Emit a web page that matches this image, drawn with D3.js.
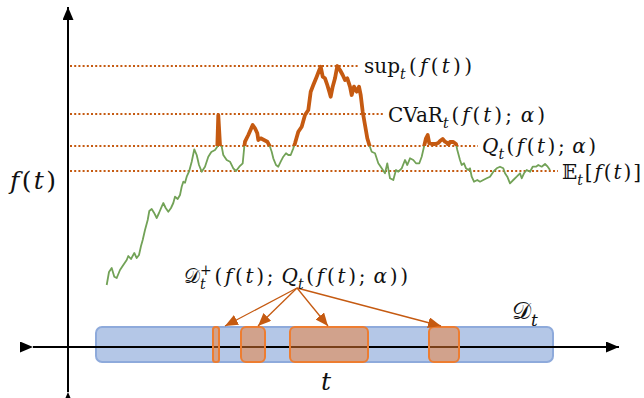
<!DOCTYPE html>
<html>
<head>
<meta charset="utf-8">
<script src="https://cdn.jsdelivr.net/npm/d3@7"></script>
<style>
  html, body { margin: 0; padding: 0; background: #fff; }
  svg { display: block; }
</style>
</head>
<body>
<svg id="chart" width="644" height="398"></svg>
<script>
// Sample path of f(t): time and value
const tValues = [38.7, 41, 43.7, 46.3, 48.7, 52, 55.3, 58.7, 60.3, 63, 66.3, 68.7, 71, 73, 74.7, 77, 79.7, 81.3, 83.7, 86,
  88.7, 91, 93.7, 95.3, 97.7, 100.3, 103, 105.3, 107, 109.7, 112, 113.7, 115.3, 117, 118.7, 121, 123.7, 126.3, 128.7, 131,
  133.7, 137, 140.3, 143.3, 147, 149.3, 150.3, 152, 153.7, 155.3, 158.7, 162, 165.3, 168, 171.3, 174.7, 176.3, 177, 180.3, 184.7,
  187, 189.3, 190.3, 192.7, 196, 199.3, 202, 203.7, 205.3, 208, 210.3, 212.7, 215.3, 218, 220.3, 222.7, 225.3, 227, 230.3, 233.7,
  237, 240.3, 242.7, 245.3, 248.7, 251.3, 252.7, 254.7, 257, 259.3, 261.3, 262.7, 264.7, 267, 269.3, 272, 274.7, 277, 279.3, 282,
  283.7, 286, 288.7, 291, 292.7, 294.7, 297, 299.3, 301.3, 303.7, 307, 310.3, 313.7, 317, 319.3, 322, 325.3, 328, 330.3, 333.7,
  337, 339.3, 342, 345.3, 348, 351.3, 353.7, 356, 358, 359.7, 361.3, 363.7, 367, 370.3, 372, 374.7, 377, 379.3, 380.3, 382,
  385.3, 388, 389.3, 392, 393.7, 396, 398, 400.3, 402, 403.7, 406, 409.3, 412, 415.3, 418.7, 422, 425.3, 428.7, 432, 435.3,
  437, 439.3, 442, 445.3, 448.7, 452, 453.7, 456, 458.7, 462, 464.7, 468, 470.3, 473.7, 477, 479.7, 482];
const fValues = [62, 75, 79, 70.3, 69, 77, 82, 87, 91, 88, 94, 89, 92, 101, 107, 117, 127, 136, 138, 134.3,
  129, 134, 140.3, 144, 139, 135.3, 139, 144, 150.3, 148, 152, 160.3, 165.3, 164.3, 170.3, 175.3, 185.3, 197.7, 192, 182,
  175.3, 180.3, 190.3, 195, 197, 200.3, 232, 202, 200.3, 192, 187, 185.3, 178.7, 176, 180.3, 183.7, 200.3, 205.3, 212, 222,
  218.7, 213.7, 207, 208.7, 207, 205.3, 200.3, 195.3, 188.7, 182, 180.3, 185.3, 190.3, 193.7, 192, 192, 198.7, 203.7, 215.3, 220.3,
  232, 237, 255.3, 262, 270.3, 277, 280.3, 270.3, 268.7, 262, 255.3, 250.3, 260.3, 268.7, 281, 277, 272, 267, 268.7, 260.3,
  252, 260.3, 255.3, 260.3, 252, 235.3, 222, 208.7, 202, 195.3, 193.7, 183.7, 178.7, 173.7, 183.7, 168.7, 167, 177, 175.3, 178.7,
  187, 182, 188.7, 187, 183.7, 183.7, 190.3, 200.3, 208.7, 212, 203.7, 203, 203, 204, 206, 208, 205.3, 204, 202, 205,
  205, 203, 197, 187, 182, 183.7, 178.7, 177, 178.7, 170.3, 165.3, 167, 165.3, 167, 168.7, 170.3, 175.3, 178.7, 180.3, 178.7,
  173.7, 170.3, 163.7, 167, 170.3, 173.7, 168.7, 173.7, 177, 175.3, 180.3, 180.3, 182, 180.3, 183, 180.3, 177];

// Summary levels of f(t)
const levelKeys = ["sup", "cvar", "quantile", "mean"];
const levelValues = [281, 233, 201, 176];

// Time intervals where f(t) exceeds the quantile level
const exceedStart = [145, 173, 222, 361];
const exceedEnd = [151, 197, 300, 391];

// Whole time domain D_t
const domainStart = 28;
const domainEnd = 485;

const svg = d3.select("#chart");
const x = d3.scaleLinear().domain([0, 551]).range([68, 619]);
const y = d3.scaleLinear().domain([0, 340]).range([347, 7]);

const ORANGE = "#c55a11";
const ORANGE_LIGHT = "#ed7d31";
const GREEN = "#72a257";
const FONT = "DejaVu Serif, Liberation Serif, serif";

// markers
const defs = svg.append("defs");
function arrowMarker(id, color, len, wid) {
  defs.append("marker")
    .attr("id", id)
    .attr("markerUnits", "userSpaceOnUse")
    .attr("viewBox", `0 0 ${len} ${wid}`)
    .attr("refX", len).attr("refY", wid / 2)
    .attr("markerWidth", len).attr("markerHeight", wid)
    .attr("orient", "auto")
    .append("path")
    .attr("d", `M0,0L${len},${wid / 2}L0,${wid}Z`)
    .attr("fill", color);
}
arrowMarker("axisHead", "#000", 13, 11);
arrowMarker("pointHead", ORANGE, 13, 11);

// ---- time domain bar ----
const barTop = y(0) - 20, barH = 35;
svg.append("rect")
  .attr("x", x(domainStart)).attr("y", barTop)
  .attr("width", x(domainEnd) - x(domainStart)).attr("height", barH)
  .attr("rx", 6)
  .attr("fill", "#b4c7e7").attr("stroke", "#8eaadb").attr("stroke-width", 2);

// ---- axes ----
svg.append("line")
  .attr("x1", x(0)).attr("x2", x(0))
  .attr("y1", y(-45)).attr("y2", y(340))
  .attr("stroke", "#000").attr("stroke-width", 2)
  .attr("marker-start", "url(#axisHead)").attr("marker-end", "url(#axisHead)");
svg.append("line")
  .attr("x1", x(-35)).attr("x2", x(551))
  .attr("y1", y(0)).attr("y2", y(0))
  .attr("stroke", "#000").attr("stroke-width", 2)
  .attr("marker-start", "url(#axisHead)").attr("marker-end", "url(#axisHead)");

// ---- exceedance intervals ----
svg.selectAll("rect.exceed")
  .data(d3.range(exceedStart.length))
  .join("rect")
  .attr("class", "exceed")
  .attr("x", i => x(exceedStart[i])).attr("y", barTop)
  .attr("width", i => x(exceedEnd[i]) - x(exceedStart[i])).attr("height", barH)
  .attr("rx", i => Math.min(5, (x(exceedEnd[i]) - x(exceedStart[i])) / 2 - 0.5))
  .attr("fill", ORANGE_LIGHT).attr("fill-opacity", 0.5)
  .attr("stroke", ORANGE_LIGHT).attr("stroke-width", 2);

// ---- level guide lines ----
const levelEnds = [290, 317, 410, 490];
svg.selectAll("line.level")
  .data(levelValues)
  .join("line")
  .attr("class", "level")
  .attr("x1", x(2)).attr("x2", (d, i) => x(levelEnds[i]))
  .attr("y1", d => y(d)).attr("y2", d => y(d))
  .attr("stroke", ORANGE).attr("stroke-width", 2)
  .attr("stroke-dasharray", "2,2.2");

// ---- the path ----
const pts = tValues.map((t, i) => [t, fValues[i]]);
const line = d3.line().x(d => x(d[0])).y(d => y(d[1]));
svg.append("path")
  .attr("d", line(pts))
  .attr("fill", "none").attr("stroke", GREEN).attr("stroke-width", 1.8)
  .attr("stroke-linejoin", "round");

// portion above the quantile level drawn thick
defs.append("clipPath").attr("id", "aboveQ")
  .append("rect").attr("x", 0).attr("y", 0)
  .attr("width", 644).attr("height", y(levelValues[2]));
svg.append("path")
  .attr("d", line(pts))
  .attr("clip-path", "url(#aboveQ)")
  .attr("fill", "none").attr("stroke", ORANGE).attr("stroke-width", 3.8)
  .attr("stroke-linejoin", "round");

// ---- pointer arrows from the D+ label to the intervals ----
const arrowFrom = [229, 59];
const arrowTo = [157, 190, 260, 373];
svg.selectAll("line.pointer")
  .data(arrowTo)
  .join("line")
  .attr("class", "pointer")
  .attr("x1", x(arrowFrom[0])).attr("y1", y(arrowFrom[1]))
  .attr("x2", d => x(d)).attr("y2", barTop - 1)
  .attr("stroke", ORANGE).attr("stroke-width", 1.3)
  .attr("marker-end", "url(#pointHead)");

// ---- math labels ----
const probe = svg.append("text").attr("font-family", FONT).attr("visibility", "hidden");
function measure(str, size, italic) {
  probe.attr("font-size", size).attr("font-style", italic ? "italic" : "normal").text(str);
  return probe.node().getComputedTextLength();
}

// parts: [text, kind]; kind may hold "i" (italic), "sub", "sup", "stack" (sub placed under the previous sup).
// Upright words stay tight; math symbols get extra room so the label spans `width`,
// with a wider gap after a semicolon.
function mathLabel(px, py, size, width, parts) {
  const txt = svg.append("text")
    .attr("x", px).attr("y", py)
    .attr("font-family", FONT).attr("font-size", size).attr("fill", "#111");
  const toks = [];
  parts.forEach(([str, kind = ""]) => {
    const italic = kind.includes("i");
    const isWord = !italic && /^[A-Za-z]{2,}$/.test(str);
    (isWord ? [str] : Array.from(str)).forEach(s => toks.push({ s, kind, italic }));
  });
  let shift = 0, pendingDx = 0, lastSupW = 0, prev = "";
  const spans = [];
  toks.forEach(tk => {
    let target = 0, fs = size;
    if (tk.kind.includes("sub")) { target = size * 0.3; fs = size * 0.7; }
    if (tk.kind.includes("sup")) { target = -size * 0.42; fs = size * 0.7; }
    const w = measure(tk.s, fs, tk.italic);
    let dx = pendingDx;
    pendingDx = 0;
    if (tk.kind.includes("stack")) {
      dx -= lastSupW;
      pendingDx = Math.max(0, lastSupW - w);
    }
    const sp = txt.append("tspan").text(tk.s)
      .attr("dy", target - shift).attr("font-size", fs);
    if (tk.italic) sp.attr("font-style", "italic");
    if (tk.kind.includes("sup")) lastSupW = w;
    shift = target;
    const scripted = /sub|sup|stack/.test(tk.kind);
    spans.push({ sp, dx, weight: scripted ? 0 : (prev === ";" ? 3 : 1) });
    prev = tk.s;
  });
  spans.forEach(s => s.sp.attr("dx", s.dx));
  if (width) {
    const natural = txt.node().getBBox().width;
    const slots = d3.sum(spans.slice(1), s => s.weight);
    const g = slots ? (width - natural) / slots : 0;
    spans.forEach((s, i) => { if (i > 0 && s.weight) s.sp.attr("dx", s.dx + g * s.weight); });
  }
  return txt;
}

const labelT = [296, 320, 414, 494];
const labelW = [108, 157, 114, 79];
mathLabel(x(labelT[0]), y(levelValues[0]) + 7, 20, labelW[0],
  [["sup"], ["t", "sub i"], ["("], ["f", "i"], ["("], ["t", "i"], ["))"]]);
mathLabel(x(labelT[1]), y(levelValues[1]) + 7.5, 20, labelW[1],
  [["CVaR"], ["t", "sub i"], ["("], ["f", "i"], ["("], ["t", "i"], [");"], ["α", "i"], [")"]]);
mathLabel(x(labelT[2]), y(levelValues[2]) + 7, 20, labelW[2],
  [["Q", "i"], ["t", "sub i"], ["("], ["f", "i"], ["("], ["t", "i"], [");"], ["α", "i"], [")"]]);
mathLabel(x(labelT[3]), y(levelValues[3]) + 7.5, 20, labelW[3],
  [["𝔼"], ["t", "sub i"], ["["], ["f", "i"], ["("], ["t", "i"], [")]"]]);

mathLabel(10, 189, 25, 48, [["f", "i"], ["("], ["t", "i"], [")"]]);
mathLabel(x(253), 390, 25, 0, [["t", "i"]]);
mathLabel(x(444), 319, 24, 0, [["𝒟"], ["t", "sub i"]]);
mathLabel(184, 283, 20, 224,
  [["𝒟"], ["+", "sup"], ["t", "sub i stack"], ["("], ["f", "i"], ["("], ["t", "i"], [");"], ["Q", "i"], ["t", "sub i"],
   ["("], ["f", "i"], ["("], ["t", "i"], [");"], ["α", "i"], ["))"]]);
probe.remove();
</script>
</body>
</html>
